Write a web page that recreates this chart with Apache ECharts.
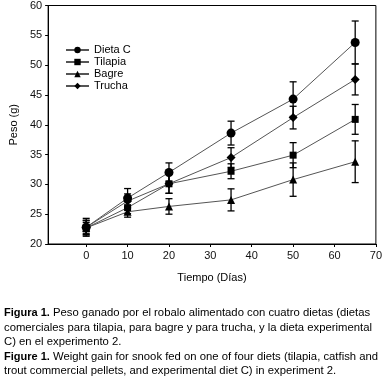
<!DOCTYPE html>
<html>
<head>
<meta charset="utf-8">
<script src="https://cdn.jsdelivr.net/npm/echarts@6/dist/echarts.min.js"></script>
<style>
  html, body { margin: 0; padding: 0; background: #fff; }
  #main { width: 385px; height: 385px; }
</style>
</head>
<body>
<div id="main"></div>
<script>
// days of sampling
var days = [0, 10, 20, 35, 50, 65];

// mean weight (g) and error per diet
var dietaC = [22.8, 27.7, 32.0, 38.6, 44.3, 53.8];
var dietaCErr = [1.5, 1.6, 1.6, 2.0, 2.9, 3.6];
var tilapia = [22.7, 26.1, 30.1, 32.2, 34.9, 40.9];
var tilapiaErr = [1.2, 1.0, 1.6, 1.25, 2.1, 2.5];
var bagre = [22.7, 25.4, 26.3, 27.4, 30.8, 33.8];
var bagreErr = [0.9, 0.9, 1.3, 1.85, 2.8, 3.5];
var trucha = [22.8, 27.2, 30.1, 34.5, 41.2, 47.6];
var truchaErr = [1.2, 1.2, 1.6, 1.65, 1.9, 2.6];

var xTicks = [0, 10, 20, 30, 40, 50, 60, 70];

var font = 'Arial, "Liberation Sans", sans-serif';

function pts(vals) {
  return days.map(function (d, i) { return [d, vals[i]]; });
}
function errs(vals, e) {
  return days.map(function (d, i) { return [d, vals[i] - e[i], vals[i] + e[i]]; });
}

function lineSeries(name, vals, symbol, size) {
  return {
    name: name,
    type: 'line',
    data: pts(vals),
    symbol: symbol,
    symbolSize: size,
    showAllSymbol: true,
    itemStyle: { color: '#000' },
    lineStyle: { color: '#555', width: 1 },
    z: 3
  };
}

function errSeries(vals, e) {
  return {
    type: 'custom',
    data: errs(vals, e),
    silent: true,
    z: 2,
    renderItem: function (params, api) {
      var lo = api.coord([api.value(0), api.value(1)]);
      var hi = api.coord([api.value(0), api.value(2)]);
      var w = 3.5;
      var st = { stroke: '#000', lineWidth: 1.3 };
      return {
        type: 'group',
        children: [
          { type: 'line', shape: { x1: lo[0], y1: lo[1], x2: hi[0], y2: hi[1] }, style: st },
          { type: 'line', shape: { x1: lo[0] - w, y1: lo[1], x2: lo[0] + w, y2: lo[1] }, style: st },
          { type: 'line', shape: { x1: hi[0] - w, y1: hi[1], x2: hi[0] + w, y2: hi[1] }, style: st }
        ]
      };
    }
  };
}

var chart = echarts.init(document.getElementById('main'));

var option = {
  animation: false,
  backgroundColor: '#fff',
  textStyle: { fontFamily: font },
  grid: {
    left: 38, right: 7, top: 4, bottom: 141,
    show: true, borderColor: '#000', borderWidth: 1
  },
  legend: {
    orient: 'vertical',
    left: 65, top: 44,
    padding: 0,
    itemWidth: 23, itemHeight: 8, itemGap: 0,
    textStyle: { fontSize: 11, color: '#000', fontFamily: font, lineHeight: 12 },
    data: ['Dieta C', 'Tilapia', 'Bagre', 'Trucha']
  },
  xAxis: {
    type: 'value',
    min: -9.2, max: 70,
    name: 'Tiempo (Días)',
    nameLocation: 'middle',
    nameGap: 28,
    nameTextStyle: { fontSize: 11, color: '#000', fontFamily: font },
    axisLine: { show: true, onZero: false, lineStyle: { color: '#000', width: 1 } },
    axisTick: { show: true, inside: false, length: 3, customValues: xTicks, lineStyle: { color: '#000' } },
    axisLabel: { customValues: xTicks, fontSize: 11, color: '#111', margin: 6 },
    splitLine: { show: false }
  },
  yAxis: {
    type: 'value',
    min: 20, max: 60, interval: 5,
    name: 'Peso (g)',
    nameLocation: 'middle',
    nameGap: 28,
    nameTextStyle: { fontSize: 11, color: '#000', fontFamily: font },
    axisLine: { show: true, onZero: false, lineStyle: { color: '#000', width: 1 } },
    axisTick: { show: true, inside: false, length: 3, lineStyle: { color: '#000' } },
    axisLabel: { fontSize: 11, color: '#111', margin: 6 },
    splitLine: { show: false }
  },
  series: [
    errSeries(dietaC, dietaCErr),
    errSeries(tilapia, tilapiaErr),
    errSeries(bagre, bagreErr),
    errSeries(trucha, truchaErr),
    lineSeries('Dieta C', dietaC, 'circle', 9),
    lineSeries('Tilapia', tilapia, 'rect', 7),
    lineSeries('Bagre', bagre, 'triangle', 8),
    lineSeries('Trucha', trucha, 'diamond', 9)
  ],
  graphic: [
    {
      type: 'text',
      left: 4,
      top: 306,
      style: {
        text: '{b|Figura 1.} Peso ganado por el robalo alimentado con cuatro dietas (dietas\n' +
              'comerciales para tilapia, para bagre y para trucha, y la dieta experimental\n' +
              'C) en el experimento 2.\n' +
              '{b|Figure 1.} Weight gain for snook fed on one of four diets (tilapia, catfish and\n' +
              'trout commercial pellets, and experimental diet C) in experiment 2.',
        fontFamily: font,
        fontSize: 11.3,
        lineHeight: 14.5,
        fill: '#000',
        rich: {
          b: { fontWeight: 'bold', fontSize: 11, fontFamily: font, lineHeight: 14.5 }
        }
      }
    }
  ]
};

chart.setOption(option);
</script>
</body>
</html>
